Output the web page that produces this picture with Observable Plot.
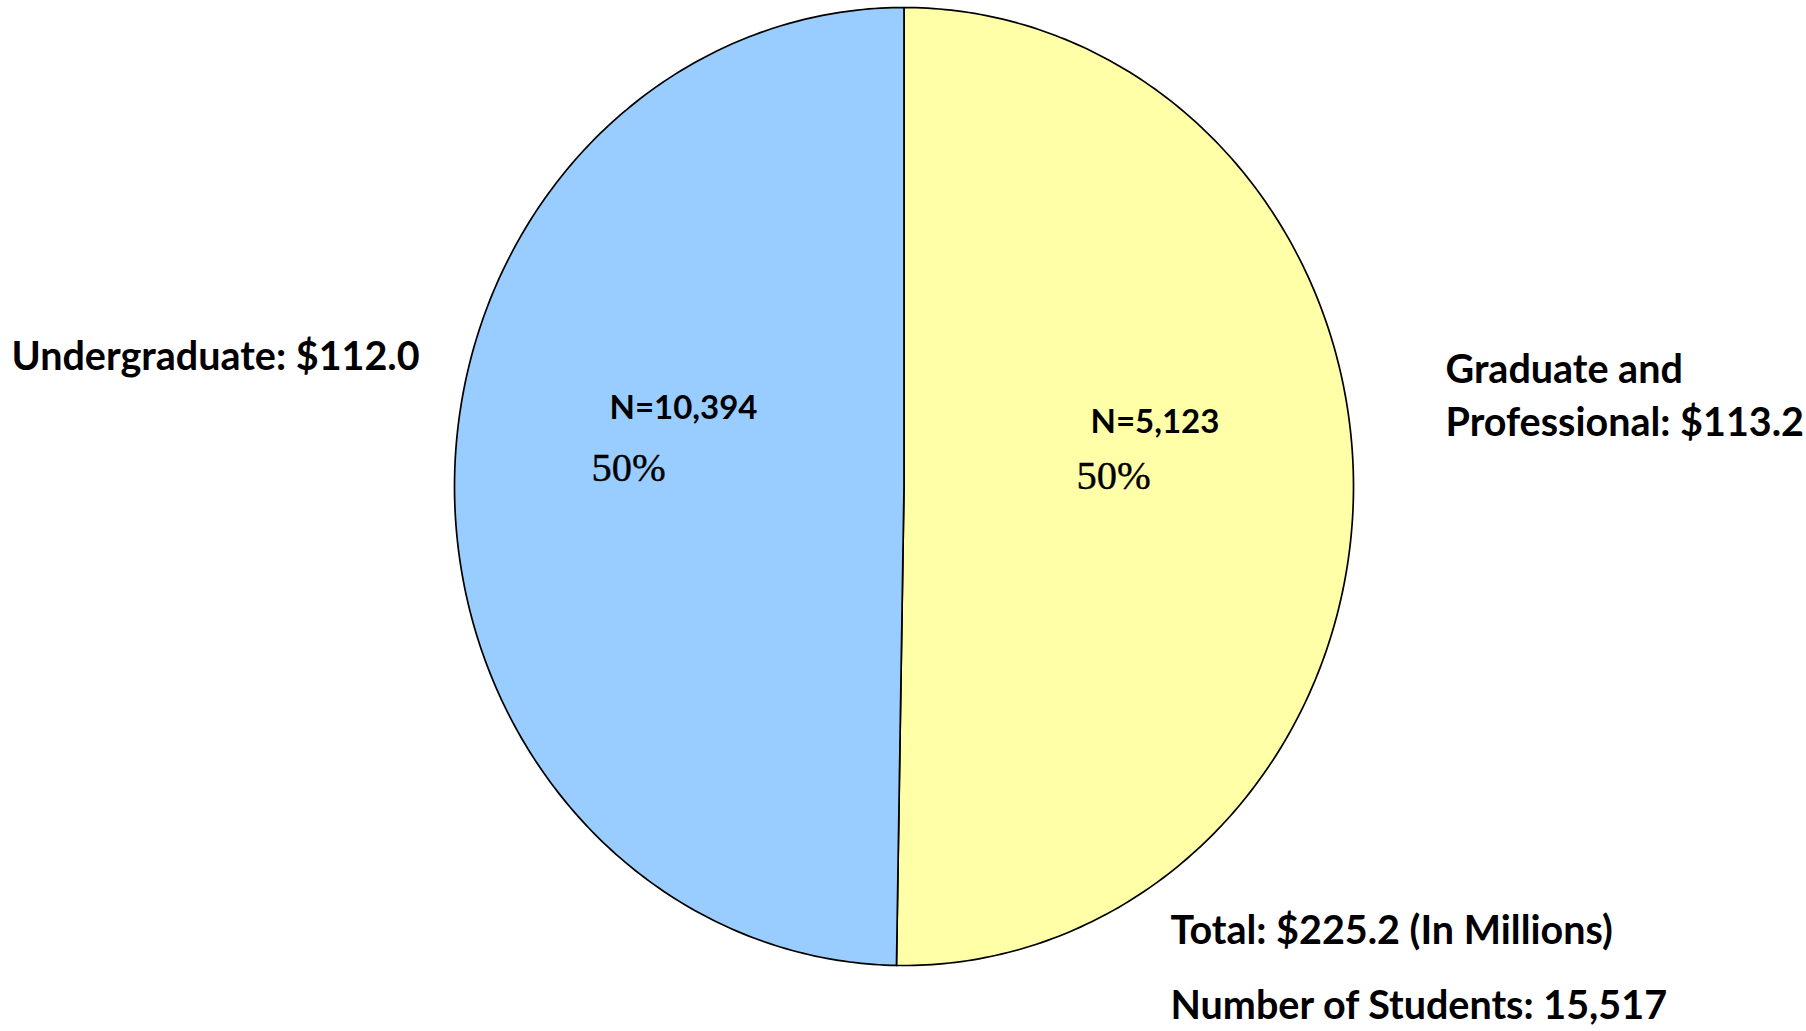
<!DOCTYPE html>
<html><head><meta charset="utf-8">
<script src="https://cdn.jsdelivr.net/npm/d3@7"></script>
<script src="https://cdn.jsdelivr.net/npm/@observablehq/plot@0.6"></script>
<style>
html,body{margin:0;padding:0;background:#fff;overflow:hidden;}
</style></head><body><div id="chart"></div>
<script>
// ---- data ----
const categories = ["Graduate and Professional", "Undergraduate"];
const amounts = [113.2, 112.0];            // $ millions
const students = [5123, 10394];
const sliceLabels = ["Graduate and\nProfessional: $113.2", "Undergraduate: $112.0"];
const nLabels = ["N=5,123", "N=10,394"];
const pctLabels = ["50%", "50%"];
const totalLabel = "Total: $225.2 (In Millions)";
const studentsLabel = "Number of Students: 15,517";

// ---- build slices (clockwise from 12 o'clock) ----
const total = d3.sum(amounts);
const pts = [];
let a0 = 0;
categories.forEach((c, i) => {
  const a1 = a0 + 2 * Math.PI * amounts[i] / total;
  pts.push({cat: c, x: 0, y: 0});
  const n = 240;
  for (let k = 0; k <= n; k++) {
    const a = a0 + (a1 - a0) * k / n;
    pts.push({cat: c, x: Math.sin(a), y: Math.cos(a)});
  }
  pts.push({cat: c, x: 0, y: 0});
  a0 = a1;
});

const big = {fontFamily: "Lato", fontWeight: 700, fontSize: 39.5, fill: "black", textAnchor: "start", lineAnchor: "bottom"};
const mid = {fontFamily: "Lato", fontWeight: 700, fontSize: 33, fill: "black", textAnchor: "start", lineAnchor: "bottom"};
const pct = {fontFamily: "Liberation Serif", fontWeight: 400, fontSize: 40.5, fill: "black", textAnchor: "start", lineAnchor: "bottom", stroke: "black", strokeWidth: 0.4};

const sx = px => (px - 903.5) / 449.5;
const sy = py => (486 - py) / 479;

const svg = Plot.plot({
  width: 1806, height: 1031,
  margin: 0,
  x: {domain: [-1, 1], range: [454, 1353], axis: null},
  y: {domain: [-1, 1], range: [965, 7], axis: null},
  marks: [
    Plot.line(pts.filter(d => d.cat === categories[0]), {x: "x", y: "y", fill: "url(#dots)", stroke: "black", strokeWidth: 1.7, curve: "linear"}),
    Plot.line(pts.filter(d => d.cat === categories[1]), {x: "x", y: "y", fill: "#99ccff", stroke: "black", strokeWidth: 1.7, curve: "linear"}),
    Plot.text([sliceLabels[1]], {x: sx(11), y: sy(369), text: d => d, ...big}),
    Plot.text([sliceLabels[0]], {x: sx(1445), y: sy(435), text: d => d, lineHeight: 1.34, ...big}),
    Plot.text([nLabels[1]], {x: sx(609), y: sy(418), text: d => d, ...mid}),
    Plot.text([nLabels[0]], {x: sx(1090), y: sy(432), text: d => d, ...mid}),
    Plot.text([pctLabels[1]], {x: sx(591), y: sy(480), text: d => d, ...pct}),
    Plot.text([pctLabels[0]], {x: sx(1076), y: sy(488), text: d => d, ...pct}),
    Plot.text([totalLabel], {x: sx(1170), y: sy(943), text: d => d, ...big}),
    Plot.text([studentsLabel], {x: sx(1170), y: sy(1018), text: d => d, ...big})
  ]
});

// dotted yellow pattern
const defs = d3.select(svg).insert("defs", ":first-child");
const p = defs.append("pattern").attr("id", "dots").attr("width", 4).attr("height", 4).attr("patternUnits", "userSpaceOnUse");
p.append("rect").attr("width", 4).attr("height", 4).attr("fill", "#ffff9c");
p.append("circle").attr("cx", 1).attr("cy", 1).attr("r", 0.7).attr("fill", "#ffffe0");
p.append("circle").attr("cx", 3).attr("cy", 3).attr("r", 0.7).attr("fill", "#ffffe0");

document.getElementById("chart").appendChild(svg);
</script>
</body></html>
